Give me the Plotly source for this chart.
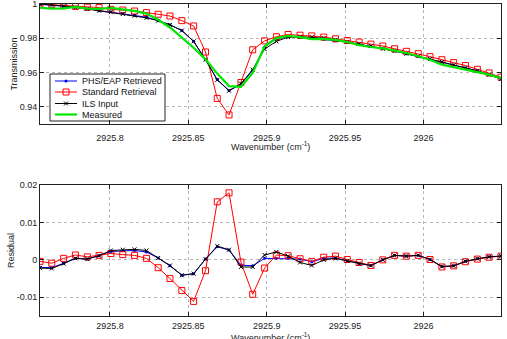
import plotly.graph_objects as go
from plotly.subplots import make_subplots

wavenumber = [2925.7554, 2925.7629, 2925.7705, 2925.7780, 2925.7856, 2925.7931, 2925.8006, 2925.8082,
              2925.8157, 2925.8233, 2925.8308, 2925.8383, 2925.8459, 2925.8534, 2925.8610, 2925.8685,
              2925.8760, 2925.8836, 2925.8911, 2925.8987, 2925.9062, 2925.9137, 2925.9213, 2925.9288,
              2925.9364, 2925.9439, 2925.9514, 2925.9590, 2925.9665, 2925.9741, 2925.9816, 2925.9891,
              2925.9967, 2926.0042, 2926.0118, 2926.0193, 2926.0268, 2926.0344, 2926.0419, 2926.0495]

phs_retrieved = [0.9998, 0.9994, 0.9987, 0.9981, 0.9971, 0.9961, 0.9955, 0.9945, 0.9935, 0.9923,
                 0.9903, 0.9879, 0.9845, 0.9782, 0.9675, 0.9559, 0.9495, 0.9531, 0.9614, 0.9749,
                 0.9797, 0.9810, 0.9805, 0.9800, 0.9793, 0.9786, 0.9778, 0.9766, 0.9755, 0.9739,
                 0.9726, 0.9710, 0.9695, 0.9679, 0.9662, 0.9644, 0.9627, 0.9610, 0.9588, 0.9563]

standard_retrieval = [1.0000, 0.9996, 0.9990, 0.9986, 0.9981, 0.9979, 0.9969, 0.9965, 0.9959, 0.9950,
                      0.9940, 0.9930, 0.9903, 0.9872, 0.9720, 0.9449, 0.9353, 0.9542, 0.9733, 0.9785,
                      0.9809, 0.9822, 0.9818, 0.9814, 0.9807, 0.9797, 0.9787, 0.9778, 0.9766, 0.9755,
                      0.9739, 0.9724, 0.9710, 0.9693, 0.9675, 0.9658, 0.9641, 0.9619, 0.9598, 0.9573]

ils_input = [1.0000, 0.9996, 0.9988, 0.9981, 0.9971, 0.9961, 0.9952, 0.9942, 0.9932, 0.9919,
             0.9903, 0.9878, 0.9845, 0.9782, 0.9675, 0.9557, 0.9494, 0.9536, 0.9617, 0.9737,
             0.9782, 0.9807, 0.9809, 0.9807, 0.9801, 0.9791, 0.9778, 0.9766, 0.9755, 0.9739,
             0.9726, 0.9710, 0.9695, 0.9679, 0.9662, 0.9644, 0.9627, 0.9610, 0.9588, 0.9563]

measured = [0.9978, 0.9973, 0.9975, 0.9983, 0.9973, 0.9972, 0.9977, 0.9969, 0.9960, 0.9944,
            0.9908, 0.9863, 0.9804, 0.9745, 0.9677, 0.9594, 0.9521, 0.9517, 0.9598, 0.9753,
            0.9801, 0.9814, 0.9807, 0.9795, 0.9797, 0.9791, 0.9778, 0.9760, 0.9749, 0.9741,
            0.9728, 0.9714, 0.9695, 0.9675, 0.9646, 0.9631, 0.9619, 0.9604, 0.9588, 0.9567]

res_phs = [-0.0020, -0.0021, -0.0009, 0.0004, 0.0002, 0.0011, 0.0022, 0.0024, 0.0025, 0.0021,
           0.0005, -0.0016, -0.0041, -0.0037, 0.0002, 0.0035, 0.0026, -0.0014, -0.0016, 0.0004,
           0.0004, 0.0004, 0.0002, -0.0005, 0.0004, 0.0005, -0.0003, -0.0010, -0.0015, 0.0000,
           0.0012, 0.0010, 0.0012, 0.0001, -0.0018, -0.0016, -0.0004, 0.0003, 0.0008, 0.0010]

res_standard = [-0.0004, -0.0009, 0.0004, 0.0013, 0.0008, 0.0012, 0.0017, 0.0014, 0.0012, 0.0004,
                -0.0021, -0.0050, -0.0082, -0.0111, -0.0029, 0.0155, 0.0179, -0.0006, -0.0092, -0.0022,
                0.0013, 0.0011, 0.0003, -0.0004, 0.0007, 0.0010, 0.0001, -0.0007, -0.0015, 0.0000,
                0.0012, 0.0010, 0.0012, 0.0001, -0.0019, -0.0016, -0.0005, 0.0002, 0.0007, 0.0010]

res_ils = [-0.0022, -0.0023, -0.0010, 0.0004, 0.0002, 0.0011, 0.0025, 0.0027, 0.0028, 0.0025,
           0.0005, -0.0015, -0.0041, -0.0037, 0.0002, 0.0037, 0.0027, -0.0019, -0.0019, 0.0013,
           0.0021, 0.0010, -0.0007, -0.0015, 0.0000, 0.0004, -0.0003, -0.0010, -0.0015, 0.0000,
           0.0012, 0.0010, 0.0012, 0.0001, -0.0018, -0.0016, -0.0004, 0.0003, 0.0008, 0.0010]

series_names = ["PHS/EAP Retrieved", "Standard Retrieval", "ILS Input", "Measured"]
top_yticks = [0.94, 0.96, 0.98, 1.0]
top_yticklabels = ["0.94", "0.96", "0.98", "1"]
bot_yticks = [-0.01, 0.0, 0.01, 0.02]
bot_yticklabels = ["-0.01", "0", "0.01", "0.02"]
xticks = [2925.8, 2925.85, 2925.9, 2925.95, 2926.0]
xticklabels = ["2925.8", "2925.85", "2925.9", "2925.95", "2926"]
x_title = "Wavenumber (cm<sup>-1</sup>)"

BLUE = "#0000ff"
RED = "#ff0000"
BLACK = "#000000"
GREEN = "#00e600"
FONT = "Liberation Sans"
TXT = "#222222"

W, H = 507, 339
ML, MR, MT, MB = 40, 6, 4, 23
TOP_DOMAIN = [0.6154, 1.0]
BOT_DOMAIN = [0.0, 0.4199]
PLOT_H = H - MT - MB
TOP_PIX = [MT + (1 - TOP_DOMAIN[1]) * PLOT_H, MT + (1 - TOP_DOMAIN[0]) * PLOT_H]  # top, bottom pixel rows

def paper_y(pix):
    return (H - MB - pix) / PLOT_H

styles = [
    dict(mode="lines+markers", line=dict(color=BLUE, width=1),
         marker=dict(symbol="circle", size=3, color=BLUE)),
    dict(mode="lines+markers", line=dict(color=RED, width=1),
         marker=dict(symbol="square-open", size=6, color=RED, line=dict(width=1))),
    dict(mode="lines+markers", line=dict(color=BLACK, width=1),
         marker=dict(symbol="x-thin-open", size=4, color=BLACK, line=dict(width=1, color=BLACK))),
    dict(mode="lines", line=dict(color=GREEN, width=2.2)),
]

fig = make_subplots(rows=2, cols=1, vertical_spacing=0.0)

top_series = [phs_retrieved, standard_retrieval, ils_input, measured]
res_series = [res_phs, res_standard, res_ils]
for name, ys, st in zip(series_names, top_series, styles):
    fig.add_trace(go.Scatter(x=wavenumber, y=ys, name=name, showlegend=False, **st), row=1, col=1)
for name, ys, st in zip(series_names, res_series, styles):
    fig.add_trace(go.Scatter(x=wavenumber, y=ys, name=name, showlegend=False, **st), row=2, col=1)

# legend drawn on an overlaying pixel-space axis pair so that its rows can be compact
LX0, LY0, LX1, LY1 = 50, 74, 165, 121
row_y = [81, 92, 103.5, 114.5]
fig.add_trace(go.Scatter(x=[LX0, LX1, LX1, LX0, LX0], y=[LY0, LY0, LY1, LY1, LY0], mode="lines",
                         fill="toself", fillcolor="white", line=dict(color=TXT, width=1),
                         hoverinfo="skip", showlegend=False, xaxis="x3", yaxis="y3"))
for name, ry, st in zip(series_names, row_y, styles):
    fig.add_trace(go.Scatter(x=[55, 77], y=[ry, ry], mode="lines", line=st["line"],
                             hoverinfo="skip", showlegend=False, xaxis="x3", yaxis="y3"))
    if "marker" in st:
        fig.add_trace(go.Scatter(x=[66], y=[ry], mode="markers", marker=st["marker"],
                                 hoverinfo="skip", showlegend=False, xaxis="x3", yaxis="y3"))
    fig.add_annotation(x=80, y=ry, xref="x3", yref="y3", text=name, showarrow=False,
                       xanchor="left", yanchor="middle",
                       font=dict(family=FONT, size=9, color="#111111"))

# x-axis titles placed as annotations (reference shows the lower one clipped by the page edge)
for ty in (146, 337):
    fig.add_annotation(x=0.5, y=paper_y(ty), xref="paper", yref="paper", text=x_title,
                       showarrow=False, xanchor="center", yanchor="middle",
                       font=dict(family=FONT, size=9, color=TXT))

axis_common = dict(showline=True, linecolor=TXT, linewidth=1, mirror="ticks",
                   ticks="inside", ticklen=4, tickcolor=TXT,
                   showgrid=True, gridcolor="#b5b5b5", griddash="dot", gridwidth=1,
                   zeroline=False, tickfont=dict(family=FONT, size=9, color=TXT),
                   automargin=False, ticklabeloverflow="allow")

xr = [wavenumber[0], wavenumber[-1]]
fig.update_xaxes(axis_common, range=xr, tickvals=xticks, ticktext=xticklabels,
                 ticklabelstandoff=5, row=1, col=1)
fig.update_xaxes(axis_common, range=xr, tickvals=xticks, ticktext=xticklabels,
                 ticklabelstandoff=1, row=2, col=1)
fig.update_yaxes(axis_common, row=1, col=1)
fig.update_yaxes(axis_common, row=2, col=1)
fig.update_yaxes(range=[0.93, 1.0], tickvals=top_yticks, ticktext=top_yticklabels,
                 title=dict(text="Transmission", font=dict(family=FONT, size=9, color=TXT), standoff=0),
                 domain=TOP_DOMAIN, row=1, col=1)
fig.update_yaxes(range=[-0.015, 0.02], tickvals=bot_yticks, ticktext=bot_yticklabels,
                 title=dict(text="Residual", font=dict(family=FONT, size=9, color=TXT), standoff=0),
                 domain=BOT_DOMAIN, row=2, col=1)

fig.update_layout(
    xaxis3=dict(overlaying="x", range=[ML, W - MR], visible=False, anchor="y3", fixedrange=True),
    yaxis3=dict(overlaying="y", range=[TOP_PIX[1], TOP_PIX[0]], visible=False, anchor="x3", fixedrange=True),
    width=W, height=H,
    margin=dict(l=ML, r=MR, t=MT, b=MB),
    paper_bgcolor="white", plot_bgcolor="white",
    font=dict(family=FONT, size=9, color=TXT),
    showlegend=False,
)

fig.write_html("out.html")
